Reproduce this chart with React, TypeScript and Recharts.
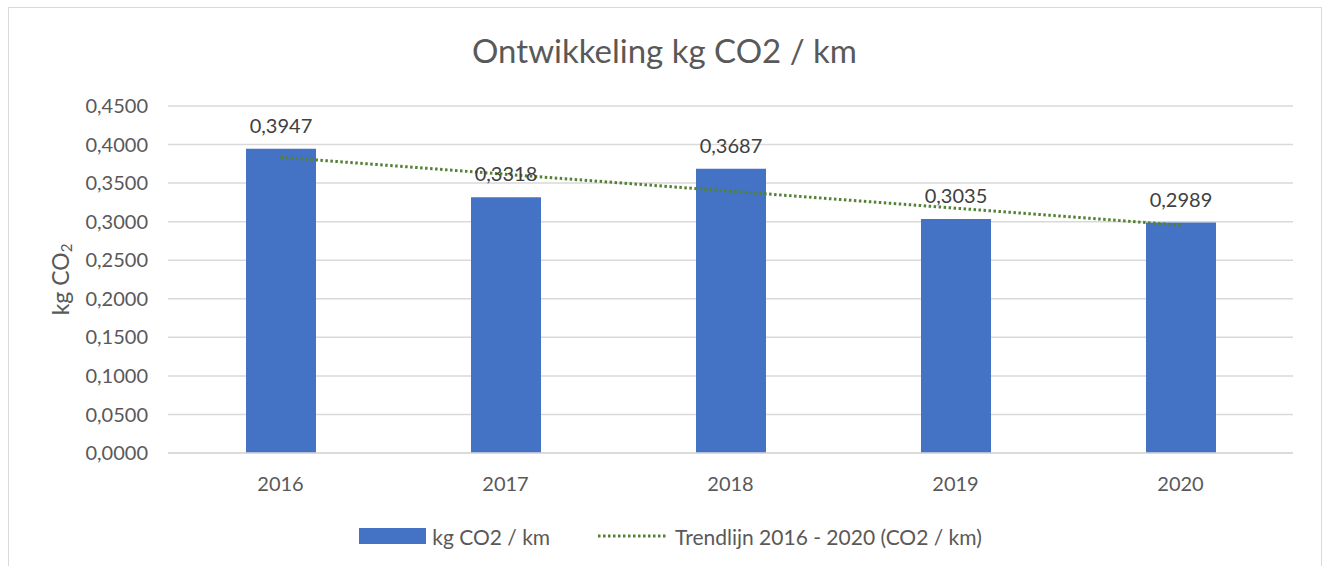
import React from 'react';
import {
  ComposedChart, Bar, Line, XAxis, YAxis,
  CartesianGrid, Legend, LabelList
} from 'recharts';

const years = ['2016', '2017', '2018', '2019', '2020'];
const co2PerKm = [0.3947, 0.3318, 0.3687, 0.3035, 0.2989];
// linear trend line as drawn in the source sheet
const trendValues = [0.3835, 0.3615, 0.3395, 0.3175, 0.2955];
const yTicks = [0, 0.05, 0.1, 0.15, 0.2, 0.25, 0.3, 0.35, 0.4, 0.45];

const chartData = years.map((year, i) => ({
  year,
  value: co2PerKm[i],
  trend: trendValues[i],
}));

const FONT = 'Lato, "Open Sans", sans-serif';
const TEXT = '#595959';

const fmt = (v: number) => v.toFixed(4).replace('.', ',');

const YLabel = ({ viewBox }: any) => {
  const cy = viewBox.y + viewBox.height / 2;
  const cx = 60;
  return (
    <text
      x={cx}
      y={cy}
      transform={`rotate(-90, ${cx}, ${cy})`}
      textAnchor="middle"
      dominantBaseline="central"
      fill={TEXT}
      fontSize={23}
      fontFamily={FONT}
    >
      kg CO<tspan fontSize={15} dy={6}>2</tspan>
    </text>
  );
};

const CustomLegend = () => (
  <div style={{ display: 'flex', justifyContent: 'center', alignItems: 'center', fontFamily: FONT, fontSize: 21, color: TEXT, height: 40, paddingRight: 40 }}>
    <span style={{ display: 'inline-block', width: 67, height: 16, background: '#4472C4', marginRight: 6 }} />
    <span style={{ marginRight: 47 }}>kg CO2 / km</span>
    <svg width={70} height={10} style={{ marginRight: 8 }}>
      <line x1={1} y1={5} x2={69} y2={5} stroke="#548235" strokeWidth={3} strokeDasharray="2.5 2.5" />
    </svg>
    <span>Trendlijn 2016 - 2020 (CO2 / km)</span>
  </div>
);

export default function App() {
  return (
    <div style={{ position: 'fixed', left: 0, top: 0, width: 1324, height: 566, overflow: 'hidden', background: '#fff' }}>
      <div style={{ position: 'absolute', left: 8, top: 7, width: 1314, height: 620, border: '1px solid #d9d9d9', boxSizing: 'border-box' }} />
      <div style={{ position: 'absolute', left: 0, top: 30, width: 1329, textAlign: 'center', fontFamily: FONT, fontSize: 33, color: TEXT }}>
        Ontwikkeling kg CO2 / km
      </div>
      <div style={{ position: 'absolute', left: 0, top: 0 }}>
        <ComposedChart
          width={1324}
          height={566}
          data={chartData}
          margin={{ top: 106, right: 31, left: 88, bottom: 10 }}
        >
          <CartesianGrid vertical={false} stroke="#d9d9d9" strokeWidth={1.5} />
          <XAxis
            dataKey="year"
            axisLine={{ stroke: '#d9d9d9', strokeWidth: 1.5 }}
            tickLine={false}
            height={63}
            tick={{ fill: TEXT, fontSize: 20, fontFamily: FONT }}
            dy={16}
          />
          <YAxis
            width={80}
            domain={[0, 0.45]}
            ticks={yTicks}
            axisLine={false}
            tickLine={false}
            tickFormatter={fmt}
            tickMargin={14}
            tick={{ fill: TEXT, fontSize: 20, fontFamily: FONT }}
            label={<YLabel />}
          />
          <Legend verticalAlign="bottom" height={40} content={<CustomLegend />} />
          <Bar dataKey="value" fill="#4472C4" barSize={70} isAnimationActive={false}>
            <LabelList
              dataKey="value"
              position="top"
              offset={16}
              formatter={(v: any) => fmt(Number(v))}
              style={{ fill: '#404040', fontSize: 20, fontFamily: FONT }}
            />
          </Bar>
          <Line
            dataKey="trend"
            stroke="#548235"
            strokeWidth={3}
            strokeDasharray="2.5 2.5"
            dot={false}
            activeDot={false}
            isAnimationActive={false}
          />
        </ComposedChart>
      </div>
    </div>
  );
}
